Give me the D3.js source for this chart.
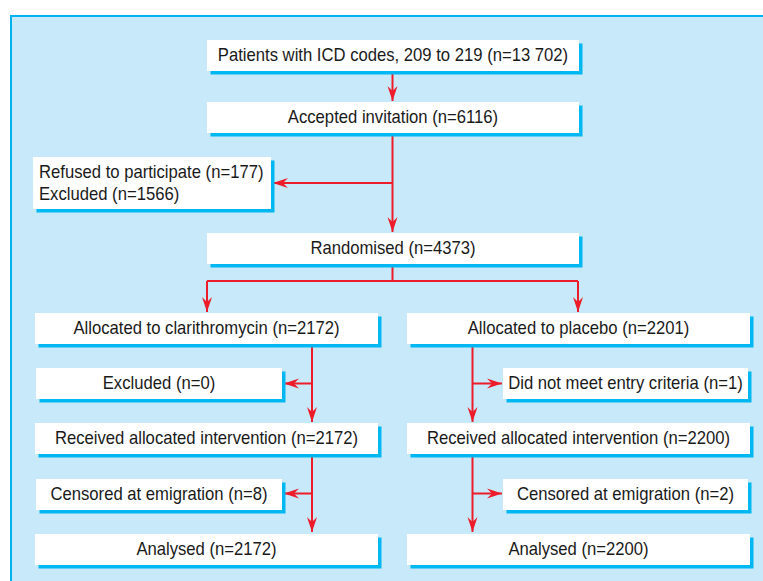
<!DOCTYPE html>
<html>
<head>
<meta charset="utf-8">
<script src="https://cdn.jsdelivr.net/npm/d3@7"></script>
<style>
  body { margin: 0; background: #fff; }
  svg text { font-family: "Liberation Sans", Arial, sans-serif; font-size: 18.5px; fill: #1a1a1a; }
</style>
</head>
<body>
<svg id="chart" width="763" height="581"></svg>
<script>
// flow stages
var mainLabels = ["Patients with ICD codes, 209 to 219", "Accepted invitation", "Randomised"];
var mainCounts = ["13 702", "6116", "4373"];

var refusedLabels = ["Refused to participate", "Excluded"];
var refusedCounts = [177, 1566];

var armLabels = ["Allocated to clarithromycin", "Allocated to placebo"];
var armCounts = [2172, 2201];
var exclusionLabels = ["Excluded", "Did not meet entry criteria"];
var exclusionCounts = [0, 1];
var receivedCounts = [2172, 2200];
var censoredCounts = [8, 2];
var analysedCounts = [2172, 2200];

function label(name, n) { return name + " (n=" + n + ")"; }

var svg = d3.select("#chart");
var width = 763, height = 581;

// layout scales
var rowY = d3.scaleOrdinal()
    .domain(["screen", "accept", "refused", "random", "arm", "excl", "recv", "cens", "anal"])
    .range([40, 102, 157, 233, 313, 368, 423, 479, 534]);
var rowH = d3.scaleOrdinal()
    .domain(["refused"])
    .range([52])
    .unknown(31);
var armX = d3.scaleOrdinal().domain([0, 1]).range([35, 407]);
var armW = 343;
var sideX = d3.scaleOrdinal().domain([0, 1]).range([36, 503]);
var sideW = 246;
var trunkX = d3.scaleOrdinal().domain([0, 1]).range([312, 472.5]);

var shadowDx = 3.5, shadowDy = 3.5;
var red = "#ec1c2a";
var narrow = 0.9; // squeeze to look like a condensed face

// panel
svg.append("rect")
    .attr("x", 11).attr("y", 16)
    .attr("width", width).attr("height", height)
    .attr("fill", "#c7e9f9")
    .attr("stroke", "#00b2ee")
    .attr("stroke-width", 2);

// build node list
var nodes = [];
mainLabels.forEach(function(d, i) {
    var row = ["screen", "accept", "random"][i];
    nodes.push({ x: 207, y: rowY(row), w: 372, h: rowH(row), lines: [label(d, mainCounts[i])], align: "middle" });
});
nodes.push({ x: 33, y: rowY("refused"), w: 238, h: rowH("refused"),
    lines: refusedLabels.map(function(d, i) { return label(d, refusedCounts[i]); }), align: "start" });
[0, 1].forEach(function(a) {
    nodes.push({ x: armX(a), y: rowY("arm"), w: armW, h: 31, lines: [label(armLabels[a], armCounts[a])], align: "middle" });
    nodes.push({ x: sideX(a), y: rowY("excl"), w: sideW - (a ? 1 : 0), h: 31, lines: [label(exclusionLabels[a], exclusionCounts[a])], align: "middle" });
    nodes.push({ x: armX(a), y: rowY("recv"), w: armW, h: 31, lines: [label("Received allocated intervention", receivedCounts[a])], align: "middle" });
    nodes.push({ x: sideX(a), y: rowY("cens"), w: sideW - (a ? 1 : 0), h: 31, lines: [label("Censored at emigration", censoredCounts[a])], align: "middle" });
    nodes.push({ x: armX(a), y: rowY("anal"), w: armW, h: 31, lines: [label("Analysed", analysedCounts[a])], align: "middle" });
});

// connectors
var trunk = 392.5;
var links = [
    { pts: [[trunk, rowY("screen") + 31], [trunk, rowY("accept") - 1]], arrow: true },
    { pts: [[trunk, rowY("accept") + 31], [trunk, rowY("random") - 1]], arrow: true },
    { pts: [[trunk, 183], [273, 183]], arrow: true },
    { pts: [[trunk, rowY("random") + 30], [trunk, 281]], arrow: false },
    { pts: [[207, 281], [578, 281]], arrow: false },
    { pts: [[207, 281], [207, rowY("arm") - 1]], arrow: true },
    { pts: [[578, 281], [578, rowY("arm") - 1]], arrow: true }
];
[0, 1].forEach(function(a) {
    var tx = trunkX(a);
    var sideEdge = a ? sideX(a) - 1 : sideX(a) + sideW + 2;
    links.push({ pts: [[tx, rowY("arm") + 31], [tx, rowY("recv") - 1]], arrow: true });
    links.push({ pts: [[tx, 383.5], [sideEdge, 383.5]], arrow: true });
    links.push({ pts: [[tx, rowY("recv") + 31], [tx, rowY("anal") - 2]], arrow: true });
    links.push({ pts: [[tx, 493.5], [sideEdge, 493.5]], arrow: true });
});

var line = d3.line();
svg.append("g").selectAll("path")
    .data(links)
    .enter()
    .append("path")
    .attr("d", function(d) { return line(d.pts); })
    .attr("fill", "none")
    .attr("stroke", red)
    .attr("stroke-width", 2);

// arrow heads
var headLen = 15, headHalf = 5, notch = 10;
svg.append("g").selectAll("path")
    .data(links.filter(function(d) { return d.arrow; }))
    .enter()
    .append("path")
    .attr("d", "M0,0L" + (-headLen) + "," + (-headHalf) + "L" + (-notch) + ",0L" + (-headLen) + "," + headHalf + "Z")
    .attr("transform", function(d) {
        var p0 = d.pts[d.pts.length - 2], p1 = d.pts[d.pts.length - 1];
        var ang = Math.atan2(p1[1] - p0[1], p1[0] - p0[0]) * 180 / Math.PI;
        return "translate(" + p1[0] + "," + p1[1] + ") rotate(" + ang + ")";
    })
    .attr("fill", red);

// boxes
var box = svg.append("g").selectAll("g")
    .data(nodes)
    .enter()
    .append("g");

box.append("rect")
    .attr("x", function(d) { return d.x + shadowDx; })
    .attr("y", function(d) { return d.y + shadowDy; })
    .attr("width", function(d) { return d.w; })
    .attr("height", function(d) { return d.h; })
    .attr("fill", "#00b8f1");

box.append("rect")
    .attr("x", function(d) { return d.x; })
    .attr("y", function(d) { return d.y; })
    .attr("width", function(d) { return d.w; })
    .attr("height", function(d) { return d.h; })
    .attr("fill", "#fff");

box.each(function(d) {
    var g = d3.select(this);
    var n = d.lines.length;
    d.lines.forEach(function(t, i) {
        var txt = g.append("text")
            .attr("x", d.align === "start" ? d.x + 6 : d.x + d.w / 2)
            .attr("y", d.y + d.h / 2 + (i - (n - 1) / 2) * 22)
            .attr("dy", "0.3em")
            .attr("text-anchor", d.align)
            .text(t);
        var full = txt.node().getComputedTextLength();
        txt.attr("textLength", full * narrow).attr("lengthAdjust", "spacingAndGlyphs");
    });
});
</script>
</body>
</html>
